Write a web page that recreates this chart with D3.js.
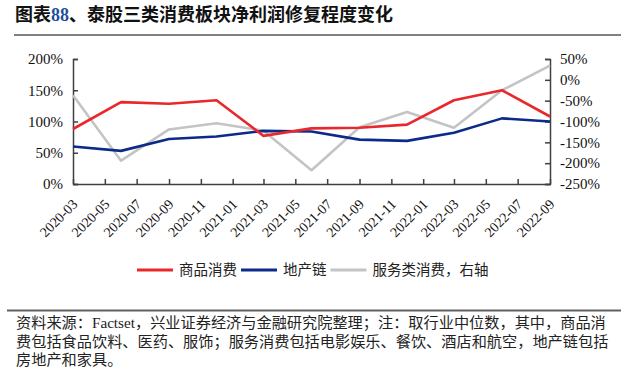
<!DOCTYPE html>
<html>
<head>
<meta charset="utf-8">
<script src="https://cdn.jsdelivr.net/npm/d3@7"></script>
<style>
  body { margin: 0; background: #fff; }
  svg { display: block; }
</style>
</head>
<body>
<div id="chart"></div>
<script>
// # Data (quarterly).
const dates    = ['2020-03', '2020-06', '2020-09', '2020-12', '2021-03', '2021-06',
                  '2021-09', '2021-12', '2022-03', '2022-06', '2022-09']
const goods    = [0.88, 1.31, 1.285, 1.34, 0.77, 0.89, 0.90, 0.95, 1.34, 1.50, 1.08]
const property = [0.60, 0.53, 0.72, 0.76, 0.85, 0.84, 0.71, 0.69, 0.82, 1.05, 1.00]
const services = [-0.37, -1.94, -1.19, -1.04, -1.22, -2.17, -1.14, -0.77, -1.15, -0.25, 0.34]
const leftTicks  = [0, 0.5, 1, 1.5, 2]
const rightTicks = [-2.5, -2, -1.5, -1, -0.5, 0, 0.5]
const seriesNames = ['商品消费', '地产链', '服务类消费，右轴']
const colors      = ['#e8282b', '#0c2a8a', '#c4c4c4']

const W = 629, H = 369
const plot = {left: 73, right: 550, top: 59, bottom: 184}
const serif = '"Liberation Serif", "Noto Sans CJK SC", serif'
const cjk = '"Liberation Serif", "Noto Sans CJK SC", sans-serif'

const parse = d3.timeParse('%Y-%m')
const svg = d3.select('#chart').append('svg')
    .attr('width', W)
    .attr('height', H)

// # Title.
const title = svg.append('text')
    .attr('x', 15)
    .attr('y', 21)
    .attr('font-family', '"Noto Sans CJK SC", sans-serif')
    .attr('font-weight', 700)
    .attr('font-size', 18)
    .attr('fill', '#111')
title.append('tspan').text('图表')
title.append('tspan').text('88').attr('fill', '#1f4e9c')
    .attr('font-family', '"Liberation Serif", serif')
title.append('tspan').text('、泰股三类消费板块净利润修复程度变化')
svg.append('line')
    .attr('x1', 14).attr('x2', 621)
    .attr('y1', 35).attr('y2', 35)
    .attr('stroke', '#808080')
    .attr('stroke-width', 2)

// # Scales.
const x = d3.scaleTime()
    .domain([parse(dates[0]), parse(dates[dates.length - 1])])
    .range([plot.left, plot.right])
const yL = d3.scaleLinear().domain([0, 2]).range([plot.bottom, plot.top])
const yR = d3.scaleLinear().domain([-2.5, 0.5]).range([plot.bottom, plot.top])

// # Axes, ticks point into the plot.
function styleAxis(g) {
    g.selectAll('path, line').attr('stroke', '#404040').attr('stroke-width', 1.5)
    g.selectAll('text').attr('fill', '#111').attr('font-family', serif)
}
const pct = d => Math.round(d * 100) + '%'

svg.append('g')
    .attr('transform', `translate(${plot.left},0)`)
    .call(d3.axisLeft(yL).tickValues(leftTicks).tickFormat(pct)
        .tickSize(-5).tickPadding(10))
    .call(styleAxis)
    .call(g => g.selectAll('text').attr('font-size', 15))

svg.append('g')
    .attr('transform', `translate(${plot.right},0)`)
    .call(d3.axisRight(yR).tickValues(rightTicks).tickFormat(pct)
        .tickSize(-5).tickPadding(10))
    .call(styleAxis)
    .call(g => g.selectAll('text').attr('font-size', 15))

svg.append('g')
    .attr('transform', `translate(0,${plot.bottom})`)
    .call(d3.axisBottom(x).ticks(d3.timeMonth.every(2)).tickFormat(d3.timeFormat('%Y-%m'))
        .tickSize(-5).tickSizeOuter(0))
    .call(styleAxis)
    .call(g => g.selectAll('text')
        .attr('font-size', 14)
        .attr('y', 0).attr('dy', 0)
        .attr('text-anchor', 'end')
        .attr('transform', 'translate(5,21) rotate(-45)'))

// # Lines.
const series = [
    {name: seriesNames[0], values: goods,    y: yL, color: colors[0]},
    {name: seriesNames[1], values: property, y: yL, color: colors[1]},
    {name: seriesNames[2], values: services, y: yR, color: colors[2]},
]
const drawOrder = [series[2], series[1], series[0]]
drawOrder.forEach(s => {
    const line = d3.line()
        .x((v, i) => x(parse(dates[i])))
        .y(v => s.y(v))
    svg.append('path')
        .datum(s.values)
        .attr('d', line)
        .attr('fill', 'none')
        .attr('stroke', s.color)
        .attr('stroke-width', 2.6)
        .attr('stroke-linejoin', 'round')
})

// # Legend.
let lx = 137
const ly = 270
series.forEach(s => {
    svg.append('line')
        .attr('x1', lx).attr('x2', lx + 36)
        .attr('y1', ly).attr('y2', ly)
        .attr('stroke', s.color)
        .attr('stroke-width', 3)
    const t = svg.append('text')
        .attr('x', lx + 42)
        .attr('y', ly + 5)
        .attr('font-family', cjk)
        .attr('font-size', 14.5)
        .attr('fill', '#222')
        .text(s.name)
    lx += 42 + t.node().getComputedTextLength() + 4
})

// # Footer.
svg.append('line')
    .attr('x1', 7).attr('x2', 621)
    .attr('y1', 310.5).attr('y2', 310.5)
    .attr('stroke', '#606060')
    .attr('stroke-width', 2)
const footLines = [
    '资料来源：Factset，兴业证券经济与金融研究院整理；注：取行业中位数，其中，商品消',
    '费包括食品饮料、医药、服饰；服务消费包括电影娱乐、餐饮、酒店和航空，地产链包括',
    '房地产和家具。',
]
svg.append('g').selectAll('text')
    .data(footLines)
    .join('text')
    .attr('x', 16)
    .attr('y', (d, i) => 328 + i * 18.5)
    .attr('font-family', cjk)
    .attr('font-size', 15.2)
    .attr('fill', '#222')
    .text(d => d)
</script>
</body>
</html>
